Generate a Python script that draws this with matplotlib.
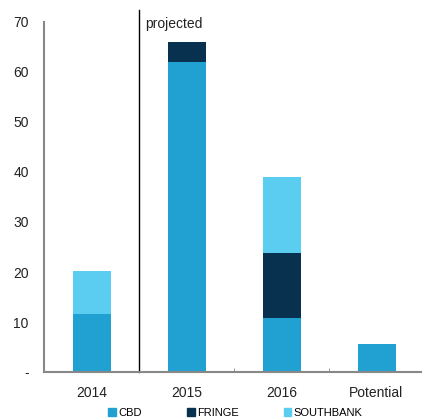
import matplotlib
matplotlib.use("Agg")
import matplotlib.pyplot as plt
from matplotlib.patches import Patch
import numpy as np

categories = ["2014", "2015", "2016", "Potential"]
cbd = [11.6, 61.9, 10.8, 5.6]
fringe = [0.0, 4.0, 13.0, 0.0]
southbank = [8.7, 0.0, 15.1, 0.0]
yticks = [0, 10, 20, 30, 40, 50, 60, 70]
ytick_labels = ["-", "10", "20", "30", "40", "50", "60", "70"]

colors = {"CBD": "#21A0D2", "FRINGE": "#07314F", "SOUTHBANK": "#5BCDF1"}

plt.rcParams['font.family'] = ['Liberation Sans', 'DejaVu Sans']

fig = plt.figure(figsize=(4.22, 4.20), dpi=100)
ax = fig.add_axes([44/422, 48/420, 380/422, 350/420])

x = np.arange(len(categories))
w = 0.4
ax.bar(x, cbd, w, color=colors["CBD"])
ax.bar(x, fringe, w, bottom=cbd, color=colors["FRINGE"])
bot2 = np.array(cbd) + np.array(fringe)
ax.bar(x, southbank, w, bottom=bot2, color=colors["SOUTHBANK"])

ax.set_xlim(-0.5, 3.5)
ax.set_ylim(0, 70)
ax.set_yticks(yticks)
ax.set_yticklabels(ytick_labels, fontsize=10, color="#222222")
ax.tick_params(axis='y', length=0, pad=11)
ax.set_xticks(x)
ax.set_xticklabels(categories, fontsize=10, color="#222222")
ax.tick_params(axis='x', length=0, pad=10)
ax.set_xticks([0.5, 1.5, 2.5], minor=True)
ax.tick_params(axis='x', which='minor', direction='in', length=3, color="#888888")

for s in ["top", "right"]:
    ax.spines[s].set_visible(False)
for s in ["left", "bottom"]:
    ax.spines[s].set_color("#888888")
    ax.spines[s].set_linewidth(1.5)

ax.plot([0.5, 0.5], [0, 72.3], color="black", lw=1, clip_on=False)
ax.text(0.56, 69.6, "projected", fontsize=10, va="center", ha="left", color="#222222")

handles = [Patch(color=colors[k], label=k) for k in ["CBD", "FRINGE", "SOUTHBANK"]]
fig.legend(handles=handles, loc="lower center", bbox_to_anchor=(0.558, -0.018), ncol=3,
           frameon=False, fontsize=8, handlelength=0.7, handleheight=0.7,
           handletextpad=0.2, columnspacing=4.05)

fig.savefig("out.png", dpi=100)
